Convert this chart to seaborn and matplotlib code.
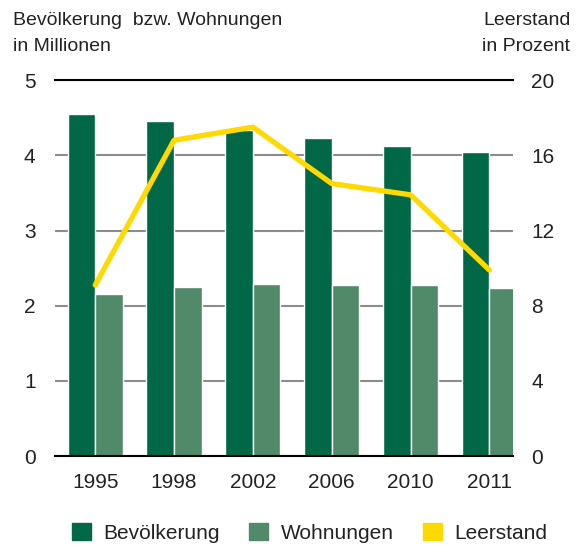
import numpy as np
import pandas as pd
import seaborn as sns
import matplotlib.pyplot as plt
from matplotlib.patches import Patch

years = ["1995", "1998", "2002", "2006", "2010", "2011"]
bevoelkerung = [4.55, 4.46, 4.34, 4.23, 4.13, 4.05]
wohnungen = [2.15, 2.25, 2.29, 2.28, 2.28, 2.23]
leerstand = [9.1, 16.8, 17.5, 14.5, 13.9, 9.9]

dunkel = "#006846"
hell = "#508a69"
gelb = "#ffd900"
text_col = "#222222"

sns.set_style("white")
plt.rcParams["font.family"] = ["Liberation Sans", "DejaVu Sans"]

df = pd.DataFrame({"Jahr": years * 2,
                   "Wert": bevoelkerung + wohnungen,
                   "Serie": ["Bevölkerung"] * 6 + ["Wohnungen"] * 6})

fig = plt.figure(figsize=(5.79, 5.45), dpi=100)
ax = fig.add_axes([0.095, 0.163, 0.791, 0.69])

sns.barplot(data=df, x="Jahr", y="Wert", hue="Serie", palette=[dunkel, hell],
            width=0.7, edgecolor="white", linewidth=1, saturation=1, ax=ax, legend=False)
ax.set_ylim(0, 5)
ax.set_xlim(-0.51, 5.3)
ax.set_yticks([0, 1, 2, 3, 4, 5])
ax.set_axisbelow(True)
ax.yaxis.grid(True, color="#8c8c8c", linewidth=1.5)
ax.set_xlabel("")
ax.set_ylabel("")
for s in ["left", "right"]:
    ax.spines[s].set_visible(False)
for s in ["top", "bottom"]:
    ax.spines[s].set_color("black")
    ax.spines[s].set_linewidth(1.5)
ax.tick_params(axis="both", length=0, labelsize=15, labelcolor=text_col)
ax.tick_params(axis="y", pad=14)
ax.tick_params(axis="x", pad=12)

ax2 = ax.twinx()
sns.lineplot(x=np.arange(len(years)), y=leerstand, color=gelb, linewidth=3.8, ax=ax2)
ax2.set_ylim(0, 20)
ax2.set_yticks([0, 4, 8, 12, 16, 20])
ax2.tick_params(axis="y", length=0, labelsize=15, labelcolor=text_col, pad=13)
for s in ax2.spines.values():
    s.set_visible(False)

fig.text(0.022, 0.962, "Bevölkerung  bzw. Wohnungen", fontsize=14, color=text_col, va="center")
fig.text(0.022, 0.915, "in Millionen", fontsize=14, color=text_col, va="center")
fig.text(0.985, 0.962, "Leerstand", fontsize=14, color=text_col, va="center", ha="right")
fig.text(0.985, 0.915, "in Prozent", fontsize=14, color=text_col, va="center", ha="right")

handles = [Patch(color=dunkel), Patch(color=hell), Patch(color=gelb)]
fig.legend(handles, ["Bevölkerung", "Wohnungen", "Leerstand"], loc="lower center",
           bbox_to_anchor=(0.535, -0.03), ncol=3, frameon=False, fontsize=15,
           handlelength=0.9, handleheight=0.9, columnspacing=1.4, handletextpad=0.6,
           labelcolor=text_col)

fig.savefig("out.png", dpi=100)
